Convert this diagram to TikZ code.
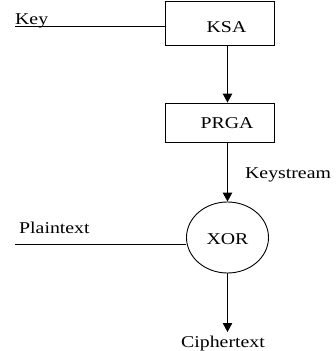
\documentclass[tikz,border=0pt]{standalone}
\usepackage{fontspec}
\setmainfont[FakeStretch=1.2]{Liberation Serif}
\usetikzlibrary{arrows.meta,shapes.geometric}
\begin{document}
\begin{tikzpicture}[x=1pt,y=-1pt,
  every node/.style={font=\fontsize{16.5}{19}\selectfont, inner sep=0pt},
  box/.style={draw, line width=0.9pt, minimum width=109pt},
  txt/.style={anchor=base},
  ln/.style={line width=0.9pt},
  arr/.style={line width=0.9pt, -{Triangle[length=9pt,width=9.5pt]}}]
\useasboundingbox (0,0) rectangle (335,351);
% boxes
\node[box, minimum height=44pt] (KSA) at (219.5,23) {};
\node[box, minimum height=39pt] (PRGA) at (219.5,122.5) {};
\node[draw, line width=0.9pt, ellipse, minimum width=82pt, minimum height=71pt] (XOR) at (227.5,237.5) {};
% texts
\node[txt] (tKSA) at (226.5,32) {KSA};
\node[txt] (tPRGA) at (227,128) {PRGA};
\node[txt] (tXOR) at (227.5,244) {XOR};
\node[anchor=base west] (tKey) at (15,24.5) {Key};
\node[anchor=base west] (tKs) at (245,178) {Keystream};
\node[anchor=base west] (tPt) at (19,233) {Plaintext};
\node[anchor=base] (tCt) at (223,347) {Ciphertext};
% coordinates
\coordinate (keystart) at (15,26);
\coordinate (ptstart) at (15,244);
\coordinate (ctend) at (227.5,332);
% connectors
\draw[ln] (keystart) -- (keystart -| KSA.west);
\draw[ln] (ptstart) -- (ptstart -| XOR.west);
\draw[arr] (KSA.south -| XOR.center) -- (PRGA.north -| XOR.center);
\draw[arr] (PRGA.south -| XOR.center) -- (XOR.north);
\draw[arr] (XOR.south) -- (ctend);
\end{tikzpicture}
\end{document}
